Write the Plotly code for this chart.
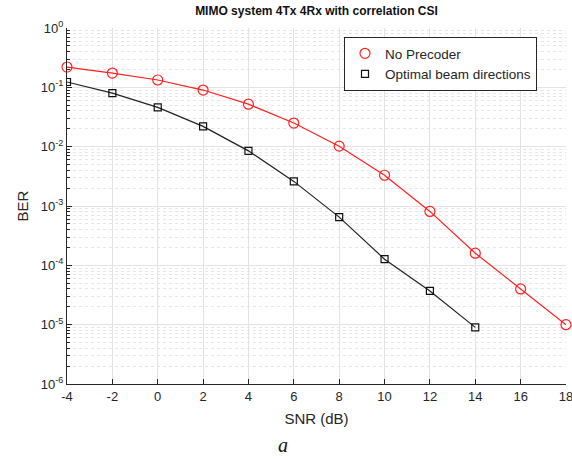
import plotly.graph_objects as go

snr_red = [-4, -2, 0, 2, 4, 6, 8, 10, 12, 14, 16, 18]
ber_red = [0.22, 0.174, 0.133, 0.090, 0.052, 0.025, 0.0102, 0.0033, 8.1e-4, 1.6e-4, 4.0e-5, 1.0e-5]
snr_blk = [-4, -2, 0, 2, 4, 6, 8, 10, 12, 14]
ber_blk = [0.123, 0.080, 0.046, 0.022, 0.0085, 0.0026, 6.5e-4, 1.27e-4, 3.7e-5, 9.0e-6]

x_ticks = list(range(-4, 19, 2))
x_ticktext = [str(v) for v in x_ticks]
y_exps = [-6, -5, -4, -3, -2, -1, 0]
y_tickvals = [10.0 ** e for e in y_exps]
y_ticktext = ["10<sup>%d</sup>" % e for e in y_exps]
y_minor = [m * 10.0 ** e for e in y_exps[:-1] for m in range(2, 10)]

W, H = 572, 459
PL, PT, PR, PB = 67, 28, 566, 384

FONT = "Liberation Sans, Arial, sans-serif"
fig = go.Figure()
fig.add_trace(go.Scatter(x=snr_red, y=ber_red, mode="lines", line=dict(color="#ff2020", width=1.2),
                         showlegend=False, hoverinfo="skip", cliponaxis=False))
fig.add_trace(go.Scatter(x=snr_blk, y=ber_blk, mode="lines", line=dict(color="#222222", width=1.2),
                         showlegend=False, hoverinfo="skip"))
fig.add_trace(go.Scatter(x=snr_red, y=ber_red, mode="markers", name="No Precoder", cliponaxis=False,
                         marker=dict(symbol="circle-open", size=10, color="#ff2020", line=dict(width=1.2))))
fig.add_trace(go.Scatter(x=snr_blk, y=ber_blk, mode="markers", name="Optimal beam directions",
                         marker=dict(symbol="square-open", size=7, color="#111111", line=dict(width=1.2))))

fig.update_layout(
    width=W, height=H,
    margin=dict(l=PL, r=W - PR, t=PT, b=H - PB, autoexpand=False),
    paper_bgcolor="white", plot_bgcolor="white",
    font=dict(family=FONT, size=13, color="#262626"),
    title=dict(text="<b>MIMO system 4Tx 4Rx with correlation CSI</b>", x=316.5 / W, xanchor="center",
               y=1 - 11 / H, yanchor="middle", font=dict(size=12, color="#111111")),
    legend=dict(x=(344 - 67) / 499, xanchor="left", y=(384 - 37) / 356, yanchor="top",
                bgcolor="white", bordercolor="#262626", borderwidth=1,
                font=dict(size=13.5, color="#262626"), tracegroupgap=0),
    showlegend=True,
)
fig.update_xaxes(
    range=[-4, 18], tickmode="array", tickvals=x_ticks, ticktext=x_ticktext,
    automargin=False, ticklabeloverflow="allow",
    showline=True, linecolor="#262626", linewidth=1, mirror=False,
    ticks="inside", ticklen=5, tickcolor="#262626",
    showgrid=True, gridcolor="#e3e3e3", gridwidth=1, zeroline=False,
    title=dict(text="SNR (dB)", font=dict(size=15), standoff=10),
    tickfont=dict(size=13),
)
fig.update_yaxes(
    type="log", range=[-6, 0], tickmode="array", tickvals=y_tickvals, ticktext=y_ticktext,
    automargin=False, ticklabeloverflow="allow",
    showline=True, linecolor="#262626", linewidth=1, mirror=False,
    ticks="inside", ticklen=5, tickcolor="#262626",
    showgrid=True, gridcolor="#e3e3e3", gridwidth=1, zeroline=False,
    minor=dict(tickmode="array", tickvals=y_minor, ticks="inside", ticklen=3, tickcolor="#262626",
               showgrid=True, gridcolor="#e6e6e6", griddash="dot", gridwidth=1),
    title=dict(text="BER", font=dict(size=15), standoff=8),
    tickfont=dict(size=13),
)
fig.add_annotation(text="<i>a</i>", x=(283 - 67) / 499, y=(384 - 445) / 356, xref="paper", yref="paper",
                   xanchor="center", yanchor="middle", showarrow=False,
                   font=dict(family="Liberation Serif, Times New Roman, serif", size=20, color="#111111"))
fig.write_html("out.html", config={"displayModeBar": False},
               post_script="document.body.style.margin='0';")
